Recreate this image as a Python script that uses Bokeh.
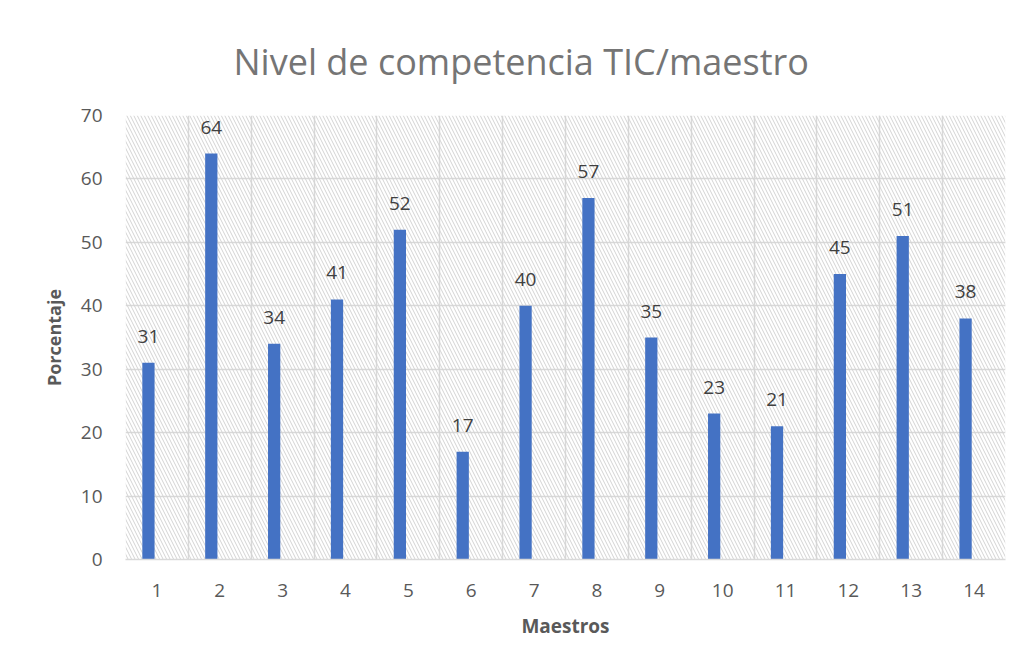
from bokeh.plotting import figure
from bokeh.models import BoxAnnotation, FixedTicker, ColumnDataSource, LabelSet
from bokeh.core.properties import value
from bokeh.transform import dodge
from bokeh.embed import file_html
from bokeh.resources import INLINE

categories = ["1", "2", "3", "4", "5", "6", "7", "8", "9", "10", "11", "12", "13", "14"]
values = [31, 64, 34, 41, 52, 17, 40, 57, 35, 23, 21, 45, 51, 38]
y_ticks = [0, 10, 20, 30, 40, 50, 60, 70]

FONT = "Open Sans"
TXT = "#595959"

xs = list(range(1, len(categories) + 1))
src = ColumnDataSource(dict(x=xs, v=values, lab=[str(v) for v in values]))

p = figure(width=1020, height=668, output_backend="svg", toolbar_location=None,
           x_range=(0.5, len(categories) + 0.5), y_range=(0, 70),
           min_border_left=125, min_border_right=15, min_border_top=115, min_border_bottom=109)

p.title.text = "Nivel de competencia TIC/maestro"
p.title.align = "left"
p.title.offset = 108
p.title.text_font = FONT
p.title.text_font_size = "36px"
p.title.text_font_style = "normal"
p.title.text_color = "#757575"
p.title.standoff = 59

p.outline_line_color = None
p.background_fill_color = "white"
p.border_fill_color = "white"

hatch = BoxAnnotation(fill_alpha=0, line_color=None, hatch_pattern="\\",
                      hatch_color="#d3d3d3", hatch_scale=7, hatch_weight=1, level="underlay")
p.add_layout(hatch)

p.vbar(x=dodge("x", -0.135, range=p.x_range), top="v", width=0.195, bottom=0,
       source=src, color="#4472C4", line_color=None)

labels = LabelSet(x=dodge("x", -0.135, range=p.x_range), y="v", text="lab", source=src,
                  text_align="center", text_baseline="bottom", y_offset=20,
                  text_font=value(FONT), text_font_size=value("19px"), text_color="#404040")
p.add_layout(labels)

# grids
p.xgrid.ticker = FixedTicker(ticks=[i + 0.5 for i in range(0, len(categories) + 1)])
p.xgrid.grid_line_color = "#d9d9d9"
p.xgrid.grid_line_width = 1.5
p.ygrid.ticker = FixedTicker(ticks=y_ticks)
p.ygrid.grid_line_color = "#d9d9d9"
p.ygrid.grid_line_width = 1.5

# x axis
p.xaxis.ticker = FixedTicker(ticks=xs)
p.xaxis.major_label_overrides = {x: c for x, c in zip(xs, categories)}
p.xaxis.axis_line_color = "#d9d9d9"
p.xaxis.axis_line_width = 1.5
p.xaxis.major_tick_line_color = None
p.xaxis.minor_tick_line_color = None
p.xaxis.major_tick_out = 0
p.xaxis.major_tick_in = 0
p.xaxis.major_label_standoff = 24
p.xaxis.major_label_text_font = FONT
p.xaxis.major_label_text_font_size = "19px"
p.xaxis.major_label_text_color = TXT
p.xaxis.axis_label = "Maestros"
p.xaxis.axis_label_text_font = FONT
p.xaxis.axis_label_text_font_size = "19px"
p.xaxis.axis_label_text_font_style = "bold"
p.xaxis.axis_label_text_color = TXT
p.xaxis.axis_label_standoff = 13

# y axis
p.yaxis.ticker = FixedTicker(ticks=y_ticks)
p.yaxis.axis_line_color = None
p.yaxis.major_tick_line_color = None
p.yaxis.minor_tick_line_color = None
p.yaxis.major_tick_out = 0
p.yaxis.major_tick_in = 0
p.yaxis.major_label_standoff = 23
p.yaxis.major_label_text_font = FONT
p.yaxis.major_label_text_font_size = "19px"
p.yaxis.major_label_text_color = TXT
p.yaxis.axis_label = "Porcentaje"
p.yaxis.axis_label_text_font = FONT
p.yaxis.axis_label_text_font_size = "18px"
p.yaxis.axis_label_text_font_style = "bold"
p.yaxis.axis_label_text_color = TXT
p.yaxis.axis_label_standoff = 12

open("out.html", "w").write(file_html(p, INLINE))
